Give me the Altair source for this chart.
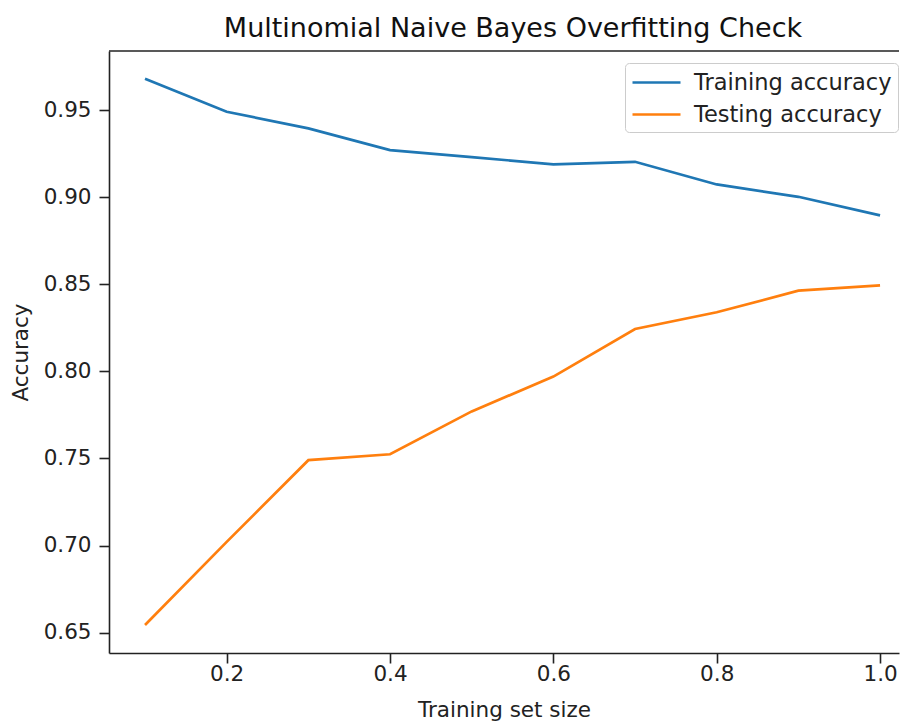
import altair as alt
import pandas as pd

# ---- data ----
sizes = [0.1, 0.2, 0.3, 0.4, 0.5, 0.6, 0.7, 0.8, 0.9, 1.0]
train_acc = [0.968, 0.949, 0.9395, 0.927, 0.923, 0.9188, 0.9203, 0.9073, 0.9002, 0.8895]
test_acc = [0.6544, 0.7021, 0.749, 0.7524, 0.777, 0.797, 0.8243, 0.8339, 0.8463, 0.8494]
series_names = ["Training accuracy", "Testing accuracy"]
series_colors = ["#1f77b4", "#ff7f0e"]
x_ticks = [0.2, 0.4, 0.6, 0.8, 1.0]
y_ticks = [0.65, 0.70, 0.75, 0.80, 0.85, 0.90, 0.95]

rows = []
for s, v in zip(sizes, train_acc):
    rows.append({"size": s, "acc": v, "series": series_names[0]})
for s, v in zip(sizes, test_acc):
    rows.append({"size": s, "acc": v, "series": series_names[1]})
df = pd.DataFrame(rows)

W, H = 790, 602
FONT = "DejaVu Sans"
INK = "#222222"

x_scale = alt.Scale(domain=[0.0559, 1.0232], nice=False, zero=False)
y_scale = alt.Scale(domain=[0.6383, 0.9839], nice=False, zero=False)

lines = alt.Chart(df).mark_line(strokeWidth=2.7).encode(
    x=alt.X(
        "size:Q",
        scale=x_scale,
        axis=alt.Axis(
            title="Training set size",
            values=x_ticks,
            format=".1f",
            grid=False,
            tickSize=10,
            labelPadding=0,
            titlePadding=15,
        ),
    ),
    y=alt.Y(
        "acc:Q",
        scale=y_scale,
        axis=alt.Axis(
            title="Accuracy",
            values=y_ticks,
            format=".2f",
            grid=False,
            tickSize=10,
            labelPadding=8,
            titlePadding=11,
        ),
    ),
    color=alt.Color(
        "series:N",
        sort=series_names,
        scale=alt.Scale(domain=series_names, range=series_colors),
        legend=alt.Legend(
            title=None,
            orient="none",
            legendX=516,
            legendY=12,
            fillColor="white",
            strokeColor="#cccccc",
            cornerRadius=4,
            padding=6,
            symbolType="M-1,0L3,0",
            symbolSize=576,
            symbolStrokeWidth=2.7,
            labelFontSize=22.5,
            labelFont=FONT,
            labelColor=INK,
            labelOffset=36,
            labelLimit=0,
            rowPadding=7,
        ),
    ),
)

frame_top = alt.Chart(pd.DataFrame({"k": [0]})).mark_rule(
    color=INK, strokeWidth=1.6
).encode(x=alt.value(0), x2=alt.value(W), y=alt.value(0))

chart = (
    alt.layer(lines, frame_top)
    .properties(
        width=W,
        height=H,
        autosize=alt.AutoSizeParams(type="none"),
        padding={"left": 101, "top": 43, "right": 1, "bottom": 68},
        title=alt.TitleParams(
            text="Multinomial Naive Bayes Overfitting Check",
            font=FONT,
            fontSize=27,
            fontWeight="normal",
            color="#111111",
            anchor="middle",
            dx=9,
            offset=7,
        ),
    )
    .configure_view(stroke=None)
    .configure_axis(
        labelFont=FONT,
        titleFont=FONT,
        labelFontSize=21.5,
        titleFontSize=21.5,
        titleFontWeight="normal",
        labelColor=INK,
        titleColor=INK,
        domainColor=INK,
        domainWidth=1.6,
        tickColor=INK,
        tickWidth=1.6,
    )
)

chart.save("out.html", embed_options={"renderer": "svg", "actions": False})
